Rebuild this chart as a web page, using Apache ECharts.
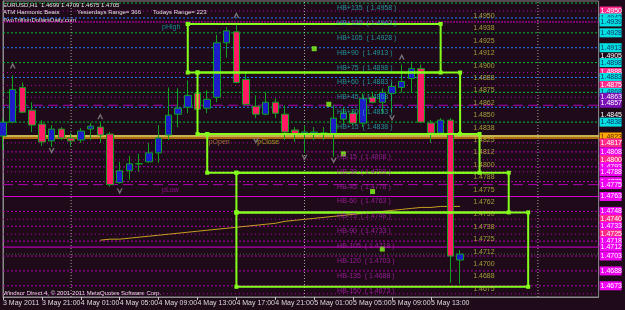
<!DOCTYPE html>
<html><head><meta charset="utf-8">
<script src="https://cdn.jsdelivr.net/npm/echarts@6/dist/echarts.min.js"></script>
<style>html,body{margin:0;padding:0;background:#1f0a1a}#c{width:625px;height:310px}</style>
</head><body><div id="c"></div>
<script>
// ---------- DATA ----------
const tickBars = [0,4,8,12,16,20,24,28,32,36,40,44];
const tickLabels = ['3 May 2011','3 May 21:00','4 May 01:00','4 May 05:00','4 May 09:00','4 May 13:00','4 May 17:00','4 May 21:00','5 May 01:00','5 May 05:00','5 May 09:00','5 May 13:00'];

const opens  = [1.4824,1.4838,1.4873,1.4850,1.4836,1.4819,1.4831,1.4822,1.4820,1.4831,1.4833,1.4826,1.4777,1.4789,1.4796,1.4798,1.4807,1.4825,1.4846,1.4853,1.4867,1.4852,1.4863,1.4918,1.4929,1.4881,1.4854,1.4846,1.4858,1.4846,1.4830,1.4826,1.4826,1.4827,1.4826,1.4841,1.4847,1.4837,1.4863,1.4858,1.4867,1.4873,1.4882,1.4892,1.4837,1.4827,1.4840,1.4699];
const highs  = [1.4842,1.4885,1.4878,1.4858,1.4840,1.4835,1.4833,1.4827,1.4832,1.4837,1.4838,1.4828,1.4798,1.4804,1.4806,1.4817,1.4835,1.4873,1.4872,1.4880,1.4872,1.4870,1.4926,1.4934,1.4936,1.4889,1.4865,1.4868,1.4862,1.4855,1.4833,1.4835,1.4833,1.4833,1.4855,1.4853,1.4850,1.4867,1.4868,1.4872,1.4878,1.4896,1.4899,1.4896,1.4840,1.4842,1.4842,1.4709];
const lows   = [1.4810,1.4837,1.4847,1.4828,1.4814,1.4813,1.4820,1.4814,1.4817,1.4820,1.4817,1.4773,1.4776,1.4780,1.4788,1.4797,1.4797,1.4820,1.4833,1.4847,1.4845,1.4847,1.4858,1.4903,1.4877,1.4855,1.4842,1.4845,1.4842,1.4820,1.4818,1.4807,1.4820,1.4820,1.4803,1.4835,1.4835,1.4833,1.4857,1.4847,1.4848,1.4868,1.4868,1.4837,1.4817,1.4825,1.4676,1.4675];
const closes = [1.4838,1.4871,1.4848,1.4835,1.4818,1.4831,1.4822,1.4819,1.4829,1.4834,1.4825,1.4775,1.4789,1.4796,1.4796,1.4807,1.4822,1.4845,1.4852,1.4865,1.4851,1.4861,1.4918,1.4930,1.4878,1.4856,1.4846,1.4858,1.4847,1.4828,1.4826,1.4828,1.4828,1.4827,1.4842,1.4847,1.4837,1.4862,1.4858,1.4868,1.4874,1.4879,1.4892,1.4838,1.4827,1.4840,1.4703,1.4705];

const maStartBar = 10;
const maValues = [1.4719,1.4720,1.4720,1.4721,1.4722,1.4723,1.4724,1.4725,1.4726,1.4727,1.4728,1.4729,1.4730,1.4731,1.4732,1.4733,1.4734,1.4735,1.4736,1.4738,1.4739,1.4740,1.4741,1.4742,1.4743,1.4744,1.4745,1.4746,1.4747,1.4748,1.4749,1.4750,1.4751,1.4752,1.4752,1.4753,1.4753,1.4753];

const hbPlusNames  = ['HB+15','HB+30','HB+45','HB+60','HB+75','HB+90','HB+105','HB+120','HB+135'];
const hbPlusPrices = [1.4838,1.4853,1.4868,1.4883,1.4898,1.4913,1.4928,1.4943,1.4958];
const hbMinusNames  = ['HB-15','HB-30','HB-45','HB-60','HB-75','HB-90','HB-105','HB-120','HB-135','HB-150'];
const hbMinusPrices = [1.4808,1.4793,1.4778,1.4763,1.4748,1.4733,1.4718,1.4703,1.4688,1.4673];
const hbBase = 1.4823;

const dottedMagentaLevels = [1.4950,1.4888,1.4875,1.4863,1.4817,1.4800,1.4788,1.4740,1.4725,1.4665];
const dashedMagentaLevels = [1.4855,1.4775];
const solidMagentaLevels  = [1.4763,1.4712];
const pHighLevel = 1.4939;
const bidLevel = 1.4705;
const separatorBars = [7,31,55];

const gridPriceValues = [1.4950,1.49375,1.4925,1.49125,1.4900,1.48875,1.4875,1.48625,1.4850,1.48375,1.4825,1.48125,1.4800,1.47875,1.4775,1.47625,1.4750,1.47375,1.4725,1.47125,1.4700,1.46875,1.4675];
const gridPriceTexts  = ['1.4950','1.4938','1.4925','1.4912','1.4900','1.4888','1.4875','1.4862','1.4850','1.4838','1.4825','1.4812','1.4800','1.4788','1.4775','1.4762','1.4750','1.4738','1.4725','1.4712','1.4700','1.4688','1.4675'];

const boxLeft   = [19,20,21,24,24];
const boxRight  = [45,47,49,52,54];
const boxTop    = [1.4937,1.4888,1.4826,1.4787,1.4747];
const boxBottom = [1.4888,1.4826,1.4787,1.4747,1.4672];

const squareBars   = [32,33.5,35,38,39];
const squarePrices = [1.4912,1.4856,1.4806,1.4768,1.4710];

const upFractalBars   = [1,10,24,41];
const upFractalPrices = [1.4895,1.4844,1.4946,1.4904];
const downFractalBars   = [5,12,26,31,34,40];
const downFractalPrices = [1.4809,1.4768,1.4819,1.4802,1.4799,1.4842];

const rightAxisValues = [1.4958,1.4950,1.4943,1.4939,1.4928,1.4913,1.4905,1.4898,1.4888,1.4883,1.4875,1.4868,1.4863,1.4857,1.4845,1.4838,1.4823,1.4817,1.4808,1.4800,1.4793,1.4788,1.4778,1.4775,1.4763,1.4748,1.4740,1.4733,1.4725,1.4718,1.4712,1.4703,1.4688,1.4673,1.4665];
const rightAxisStyles = ['c','p','c','c','c','c','w','c','p','c','p','c','u','u','w','c','o','p','m','p','m','m','m','m','m','m','p','m','p','m','m','m','m','m','p'];

const pLabels = ['pHigh','pLow','pOpen','pClose'];
const pLabelBars = [16.3,16.3,21.1,26.1];
const pLabelPrices = [1.4939,1.4775,1.4823,1.4823];
const pLabelColors = ['#10b0b0','#b010b0','#c08a40','#c8c020'];

// ---------- CHART ----------
const chart = echarts.init(document.getElementById('c'), null, {renderer:'canvas'});
const FONT = 'Liberation Sans';
const lime = '#84ff1c';
const X_MIN = 0, X_MAX = 61.24, Y_MIN = 1.46617, Y_MAX = 1.49601;

const levelDefs = [];
hbPlusPrices.forEach((p,i)=>levelDefs.push([p, i%2===0 ? '#00c030' : '#2a78ff', [2,2], 1]));
hbMinusPrices.forEach(p=>levelDefs.push([p, '#b000b0', [2,2], 1]));
dottedMagentaLevels.forEach(p=>levelDefs.push([p, '#b800a8', [1,3], 1]));
dashedMagentaLevels.forEach(p=>levelDefs.push([p, '#b000b0', [10,5], 1]));
solidMagentaLevels.forEach(p=>levelDefs.push([p, '#d000d0', 'solid', 1]));
levelDefs.push([pHighLevel, '#d000c0', [2,1], 1]);
levelDefs.push([bidLevel, '#3a6a3a', [1,2], 1]);
levelDefs.push([hbBase+0.0001, '#ffee60', 'solid', 1.5]);
levelDefs.push([hbBase-0.0001, '#e08a10', 'solid', 1.5]);

const series = [];
levelDefs.forEach(d=>series.push({type:'line', z:1, silent:true, showSymbol:false, symbol:'none',
  data:[[X_MIN,d[0]],[X_MAX,d[0]]], lineStyle:{color:d[1], type:d[2], width:d[3]}}));
separatorBars.forEach(b=>series.push({type:'line', z:1, silent:true, showSymbol:false, symbol:'none',
  data:[[b,Y_MIN],[b,Y_MAX]], lineStyle:{color:'#a8a8a8', type:[1,2], width:1}}));

series.push({type:'line', z:2, data: maValues.map((v,i)=>[maStartBar+i, v]), showSymbol:false, symbol:'none', lineStyle:{color:'#c8a020', width:1}});
series.push({type:'candlestick', z:3, data: opens.map((o,i)=>[i,o,closes[i],lows[i],highs[i]]), encode:{x:0, y:[1,2,3,4]}, barWidth:7,
   itemStyle:{color:'#1c1cc8', color0:'#ff1c64', borderColor:'#10a020', borderColor0:'#10a020', borderWidth:1}});
boxLeft.forEach((l,i)=>{
  const r = boxRight[i], t = boxTop[i], b = boxBottom[i];
  series.push({type:'line', z:4, data:[[l,t],[r,t],[r,b],[l,b],[l,t]], symbol:'rect', symbolSize:4, showSymbol:true,
    lineStyle:{color:lime, width:2}, itemStyle:{color:lime}});
});
series.push({type:'scatter', z:5, data: squareBars.map((b,i)=>[b, squarePrices[i]]), symbol:'rect', symbolSize:5, itemStyle:{color:lime}});
const chev = 'path://M0,8L4,0L8,8L6,8L4,4L2,8Z';
series.push({type:'scatter', z:5, data: upFractalBars.map((b,i)=>[b, upFractalPrices[i]]), symbol:chev, symbolSize:[6,6], itemStyle:{color:'#8c8c8c'}});
series.push({type:'scatter', z:5, data: downFractalBars.map((b,i)=>[b, downFractalPrices[i]]), symbol:chev, symbolRotate:180, symbolSize:[6,6], itemStyle:{color:'#8c8c8c'}});

function textSeries(points, texts, colors, offsetY){
  return {type:'scatter', z:6, silent:true, symbolSize:1, itemStyle:{color:'transparent'},
    data: points.map((p,i)=>({value:p, label:{show:true, formatter:texts[i], color: Array.isArray(colors)?colors[i]:colors}})),
    label:{show:true, position:'right', distance:0, offset:[0,offsetY], fontSize:7, fontFamily:FONT}};
}
series.push(textSeries(hbPlusPrices.map(p=>[34.3,p]), hbPlusNames.map((n,i)=>n+'  ( '+hbPlusPrices[i].toFixed(4)+' )'), '#20b8b8', 5));
series.push(textSeries(hbMinusPrices.map(p=>[34.3,p]), hbMinusNames.map((n,i)=>n+'  ( '+hbMinusPrices[i].toFixed(4)+' )'), '#b020b0', 5));
series.push(textSeries(gridPriceValues.map(p=>[48.3,p]), gridPriceTexts, '#c0c040', 5));
series.push(textSeries(pLabelBars.map((b,i)=>[b,pLabelPrices[i]]), pLabels, pLabelColors, 5));

const rich = {
  c:{backgroundColor:'#00e0e0', color:'#10306a'},
  p:{backgroundColor:'#ff2a8a', color:'#ffffff'},
  m:{backgroundColor:'#f000f0', color:'#ffffff'},
  o:{backgroundColor:'#ffa800', color:'#5a2a00'},
  u:{backgroundColor:'#7a10b8', color:'#ffffff'},
  w:{backgroundColor:'transparent', color:'#ffffff'}
};
Object.values(rich).forEach(s=>{s.fontSize=7; s.fontFamily=FONT; s.width=20; s.padding=[1,1]; s.align='left';});

const option = {
  backgroundColor:'#1f0a1a',
  animation:false,
  grid:{left:1, right:22, top:1, bottom:13, show:true, borderColor:'#8a8a8a', borderWidth:1, backgroundColor:'transparent'},
  xAxis:{type:'value', min:X_MIN, max:X_MAX,
    axisLine:{show:true, lineStyle:{color:'#8a8a8a'}}, splitLine:{show:false},
    axisTick:{show:true, customValues:tickBars, length:3, lineStyle:{color:'#c8c8c8'}},
    axisLabel:{customValues:tickBars, color:'#dcdcdc', fontSize:7, fontFamily:FONT, align:'left', margin:3,
      formatter:(v)=>tickLabels[tickBars.indexOf(Math.round(v))] || ''}},
  yAxis:{type:'value', position:'right', min:Y_MIN, max:Y_MAX,
    axisLine:{show:true, lineStyle:{color:'#8a8a8a'}}, splitLine:{show:false}, axisTick:{show:false},
    axisLabel:{customValues:rightAxisValues, margin:1, rich:rich,
      formatter:(v)=>{let bi=0,bd=1;rightAxisValues.forEach((r,i)=>{const d=Math.abs(r-v);if(d<bd){bd=d;bi=i;}});return '{'+rightAxisStyles[bi]+'|'+rightAxisValues[bi].toFixed(4)+'}';}}},
  graphic:[
    {type:'text', left:3, top:2, style:{text:'EURUSD,H1  1.4699 1.4709 1.4675 1.4705', fill:'#e8e8e8', font:'6px '+FONT}},
    {type:'text', left:3, top:9, style:{text:'ATM Harmonic Beats', fill:'#e8e8e8', font:'6px '+FONT}},
    {type:'text', left:77, top:9, style:{text:'Yesterdays Range= 366', fill:'#e8e8e8', font:'6px '+FONT}},
    {type:'text', left:153, top:9, style:{text:'Todays Range= 223', fill:'#e8e8e8', font:'6px '+FONT}},
    {type:'text', left:3, top:17, style:{text:'TwoTrillionDollarsDaily.com', fill:'#e8e8e8', font:'6px '+FONT}},
    {type:'text', left:3, top:290, style:{text:'Windsor Direct 4, © 2001-2011 MetaQuotes Software Corp.', fill:'#e8e8e8', font:'6px '+FONT}}
  ],
  series: series
};
chart.setOption(option);
</script></body></html>
